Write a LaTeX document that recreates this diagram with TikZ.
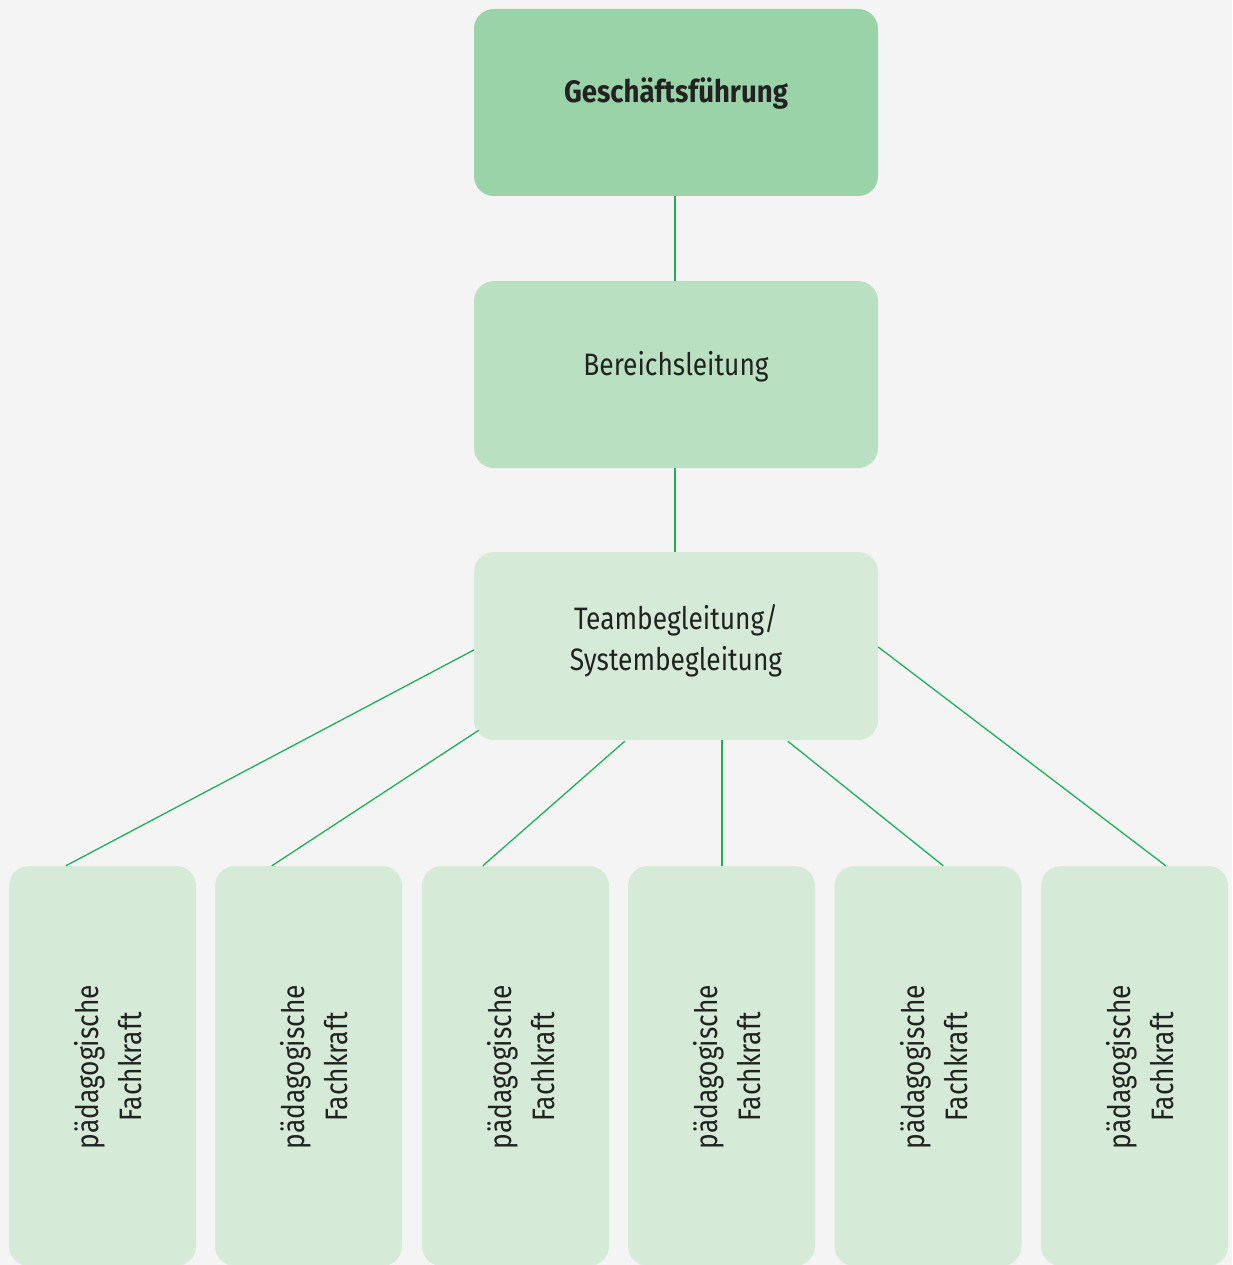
\documentclass[tikz,border=0pt]{standalone}
\usepackage{fontspec}
\setmainfont{Fira Sans}[FakeStretch=0.85, BoldFeatures={FakeStretch=0.89}]
\usetikzlibrary{calc}
\definecolor{bgc}{HTML}{F4F4F4}
\definecolor{lvA}{HTML}{9AD3A8}
\definecolor{lvB}{HTML}{B9E0C0}
\definecolor{lvC}{HTML}{D5EBD7}
\definecolor{lnc}{HTML}{1DB157}
\definecolor{txc}{HTML}{222222}
\tikzset{
  box/.style={rectangle, rounded corners=20pt, draw=none, inner sep=0pt},
  wide/.style={box, minimum width=404pt, minimum height=187pt},
  tall/.style={box, fill=lvC, minimum width=187pt, minimum height=400pt},
  lbl/.style={text=txc, font=\fontsize{31}{41}\selectfont, align=center, inner sep=0pt},
  conn/.style={draw=lnc, line width=1.3pt},
  vconn/.style={draw=lnc, line width=2pt}
}
\begin{document}
\begin{tikzpicture}[x=1pt,y=1pt]
\fill[bgc] (0,0) rectangle (1232,-1265);
\useasboundingbox (0,0) rectangle (1232,-1265);
\begin{scope}
\clip (0,0) rectangle (1232,-1265);
\node[wide, fill=lvA] (gf) at (676,-102.5) {};
\node[wide, fill=lvB] (bl) at (676,-374.5) {};
\node[wide, fill=lvC, minimum height=188pt] (tb) at (676,-646) {};
\foreach \i/\x in {1/102.5, 2/308.5, 3/515.5, 4/721.5, 5/928, 6/1134.5} {
  \node[tall] (p\i) at (\x,-1066) {};
  \node[lbl, rotate=90, font=\fontsize{31}{43}\selectfont] (pt\i) at ([xshift=6pt,yshift=-1pt]p\i.center) {pädagogische\\Fachkraft};
}
\node[lbl, font=\fontsize{31}{41}\selectfont\bfseries] (gft) at ([yshift=9pt]gf.center) {Geschäftsführung};
\node[lbl] (blt) at ([yshift=8pt]bl.center) {Bereichsleitung};
\node[lbl] (tbt) at ([yshift=5pt]tb.center) {Teambegleitung/\\Systembegleitung};
\draw[vconn] ([xshift=-1pt]gf.south) -- ([xshift=-1pt]bl.north);
\draw[vconn] ([xshift=-1pt]bl.south) -- ([xshift=-1pt]tb.north);
\draw[conn] ([yshift=-4pt]tb.west) -- ([xshift=57pt]p1.north west);
\draw[conn] ([xshift=5pt,yshift=10pt]tb.south west) -- ([xshift=57pt]p2.north west);
\draw[conn] ([xshift=151pt,yshift=-1pt]tb.south west) -- ([xshift=61pt]p3.north west);
\draw[vconn] (tb.south -| p4.north) -- (p4.north);
\draw[conn] ([xshift=314pt,yshift=-1pt]tb.south west) -- ([xshift=109pt]p5.north west);
\draw[conn] ([yshift=-1pt]tb.east) -- ([xshift=125pt]p6.north west);
\end{scope}
\end{tikzpicture}
\end{document}
